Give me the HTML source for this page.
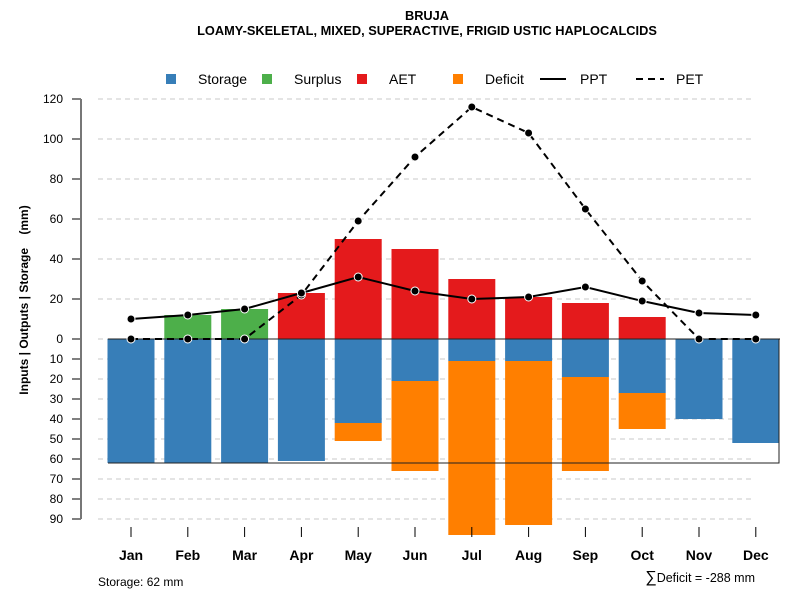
<!DOCTYPE html>
<html><head><meta charset="utf-8"><style>
body{margin:0;background:#fff;}
svg{font-family:"Liberation Sans",sans-serif;}
</style></head><body>
<svg id="c" width="800" height="600" xmlns="http://www.w3.org/2000/svg">
<text x="427" y="20" text-anchor="middle" font-weight="bold" font-size="12.8">BRUJA</text>
<text x="427" y="35" text-anchor="middle" font-weight="bold" font-size="12.8">LOAMY-SKELETAL, MIXED, SUPERACTIVE, FRIGID USTIC HAPLOCALCIDS</text>
<g font-size="14">
 <rect x="166" y="74" width="10" height="10" fill="#377eb8"/>
 <text x="198" y="84">Storage</text>
 <rect x="262" y="74" width="10" height="10" fill="#4daf4a"/>
 <text x="294" y="84">Surplus</text>
 <rect x="357" y="74" width="10" height="10" fill="#e41a1c"/>
 <text x="389" y="84">AET</text>
 <rect x="453" y="74" width="10" height="10" fill="#ff7f00"/>
 <text x="485" y="84">Deficit</text>
 <line x1="540" y1="79" x2="566" y2="79" stroke="#000" stroke-width="2"/>
 <text x="580" y="84">PPT</text>
 <line x1="636" y1="79" x2="664" y2="79" stroke="#000" stroke-width="2" stroke-dasharray="7,5"/>
 <text x="676" y="84">PET</text>
</g>
<text transform="translate(28,300) rotate(-90)" text-anchor="middle" font-weight="bold" font-size="12" style="white-space:pre" xml:space="preserve">Inputs | Outputs | Storage    (mm)</text>
<g id="grid"></g><g id="bars"></g><g id="lines"></g><g id="axes"></g>
<text x="98" y="586" font-size="12">Storage: 62 mm</text>
<text x="755" y="582" text-anchor="end" font-size="12.5"><tspan font-size="16">∑</tspan>Deficit = -288 mm</text>
</svg>
<script>
const months=["Jan","Feb","Mar","Apr","May","Jun","Jul","Aug","Sep","Oct","Nov","Dec"];
const surplus=[0,12,15,0,0,0,0,0,0,0,0,0];
const aet=[0,0,0,23,50,45,30,21,18,11,0,0];
const storage=[62,62,62,61,42,21,11,11,19,27,40,52];
const deficit=[0,0,0,0,9,45,87,82,47,18,0,0];
const ppt=[10,12,15,23,31,24,20,21,26,19,13,12];
const pet=[0,0,0,22,59,91,116,103,65,29,0,0];
const upTicks=[0,20,40,60,80,100,120];
const downTicks=[10,20,30,40,50,60,70,80,90];
const maxStorage=62;
const NS="http://www.w3.org/2000/svg";
const yU=v=>339-2*v, yD=v=>339+2*v, xM=i=>131+i*56.8;
function mk(p,t,a){const e=document.createElementNS(NS,t);for(const k in a)e.setAttribute(k,a[k]);document.getElementById(p).appendChild(e);return e;}
upTicks.forEach(v=>{
 const g=mk("grid","line",{x1:98,x2:755,y1:yU(v),y2:yU(v),stroke:"#c8c8c8","stroke-dasharray":"5,4"});
 
 
 const t=mk("axes","line",{x1:72,x2:81,y1:yU(v),y2:yU(v),stroke:"#000"});
 
 
 const l=mk("axes","text",{x:63,y:yU(v)+4,"text-anchor":"end","font-size":12});l.textContent=v;
 
 
});
downTicks.forEach(v=>{
 const g=mk("grid","line",{x1:98,x2:755,y1:yD(v),y2:yD(v),stroke:"#c8c8c8","stroke-dasharray":"5,4"});
 
 
 const t=mk("axes","line",{x1:72,x2:81,y1:yD(v),y2:yD(v),stroke:"#000"});
 
 
 const l=mk("axes","text",{x:63,y:yD(v)+4,"text-anchor":"end","font-size":12});l.textContent=v;
 
 
});
const ax=mk("axes","line",{x1:81,x2:81,y1:yU(120),y2:yD(90),stroke:"#777","stroke-width":2});


const bw=47;
months.forEach((m,i)=>{
 const x=xM(i)-bw/2;
 if(surplus[i]>0){const r=mk("bars","rect",{x:x,y:yU(aet[i]+surplus[i]),width:bw,height:2*surplus[i],fill:"#4daf4a"});
  
  }
 if(aet[i]>0){const r=mk("bars","rect",{x:x,y:yU(aet[i]),width:bw,height:2*aet[i],fill:"#e41a1c"});
  
  }
 const s=mk("bars","rect",{x:x,y:339,width:bw,height:2*storage[i],fill:"#377eb8"});
 
 
 if(deficit[i]>0){const r=mk("bars","rect",{x:x,y:yD(storage[i]),width:bw,height:2*deficit[i],fill:"#ff7f00"});
  
  }
 const t=mk("axes","line",{x1:xM(i),x2:xM(i),y1:527,y2:537,stroke:"#000"});
 
 
 const l=mk("axes","text",{x:xM(i),y:560,"text-anchor":"middle","font-size":14,"font-weight":"bold"});l.textContent=m;
 
 
});
const z=mk("bars","line",{x1:108,x2:780,y1:339,y2:339,stroke:"#000"});


const sl=mk("bars","polyline",{points:`108,339 779,339 779,${yD(maxStorage)} 108,${yD(maxStorage)}`,fill:"none",stroke:"#222"});


function series(arr,name,dash){
 const pl=mk("lines","polyline",{points:arr.map((v,i)=>xM(i)+","+yU(v)).join(" "),fill:"none",stroke:"#000","stroke-width":2,"stroke-dasharray":dash});
 
 
 arr.forEach((v,i)=>{const c=mk("lines","circle",{cx:xM(i),cy:yU(v),r:4,fill:"#000",stroke:"#fff","stroke-width":1});
  
  });
}
series(pet,"pet","7,5");
series(ppt,"ppt","none");
</script>
</body></html>
